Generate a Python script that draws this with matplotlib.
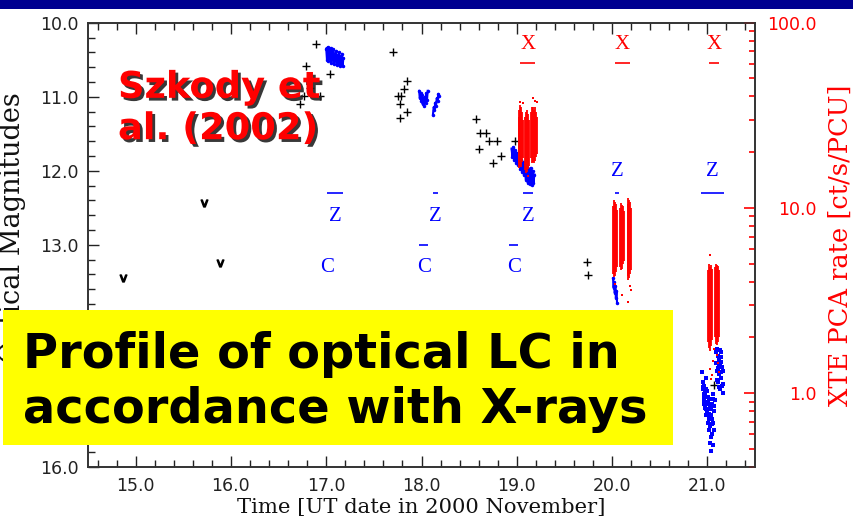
import matplotlib
matplotlib.use("Agg")
import matplotlib.pyplot as plt
from matplotlib.patches import Rectangle
from matplotlib.ticker import MultipleLocator, FixedLocator, FormatStrFormatter
import matplotlib.patheffects as pe

# ---------------- data ----------------
# optical single measurements (crosses): time [UT date], magnitude
cross_t = [16.725, 16.767, 16.830, 16.893, 16.788, 16.935, 17.040,
           17.704, 17.844, 17.815, 17.756, 17.790, 17.774, 17.850, 17.774,
           18.569, 18.614, 18.677, 18.711, 18.789, 18.607, 18.830, 18.753, 18.980,
           19.736, 19.747, 21.072]
cross_m = [11.10, 10.99, 10.88, 10.29, 10.59, 10.99, 10.69,
           10.39, 10.79, 10.89, 10.99, 10.99, 11.10, 11.20, 11.29,
           11.30, 11.49, 11.49, 11.60, 11.60, 11.70, 11.80, 11.89, 11.60,
           13.23, 13.41, 14.89]

# upper limits ("v")
ul_t = [14.870, 15.717, 15.885]
ul_m = [13.45, 12.44, 13.25]

# optical time-resolved photometry (blue)
b17_t = [17.000, 17.008, 17.015, 17.022, 17.030, 17.038, 17.045, 17.052, 17.060,
         17.068, 17.075, 17.082, 17.090, 17.098, 17.105, 17.112, 17.120, 17.128,
         17.135, 17.142, 17.150, 17.158, 17.165, 17.172, 17.180]
b17_m = [10.35, 10.50, 10.33, 10.52, 10.38, 10.48, 10.34, 10.55, 10.40,
         10.50, 10.36, 10.56, 10.42, 10.52, 10.38, 10.57, 10.44, 10.55,
         10.40, 10.58, 10.45, 10.56, 10.42, 10.59, 10.48]
b18a_t = [17.975, 17.982, 17.990, 17.998, 18.005, 18.012, 18.020, 18.028,
          18.035, 18.042, 18.050, 18.058, 18.065]
b18a_m = [10.92, 11.02, 10.95, 11.06, 10.98, 11.10, 11.02, 11.12,
          11.00, 11.08, 10.95, 11.04, 10.92]
b18b_t = [18.120, 18.128, 18.136, 18.144, 18.152, 18.160, 18.168, 18.176, 18.184]
b18b_m = [11.24, 11.14, 11.18, 11.08, 11.12, 11.02, 11.06, 10.96, 10.99]
b19_t = [18.945, 18.955, 18.965, 18.975, 18.985, 18.995, 19.005, 19.015, 19.025,
         19.035, 19.045, 19.055, 19.065, 19.075, 19.085, 19.095, 19.105, 19.115,
         19.125, 19.135, 19.145, 19.155, 19.165, 19.175, 19.185]
b19_m = [11.70, 11.82, 11.68, 11.86, 11.72, 11.90, 11.76, 11.92, 11.80,
         11.98, 11.85, 12.02, 11.88, 12.06, 11.92, 12.12, 11.95, 12.16,
         11.98, 12.18, 11.96, 12.19, 12.00, 12.17, 12.05]
b20_t = [20.010, 20.016, 20.022, 20.028, 20.034, 20.040, 20.046, 20.052]
b20_m = [13.45, 13.58, 13.50, 13.65, 13.55, 13.72, 13.62, 13.78]
b21_t = [20.945, 20.950, 20.955, 20.960, 20.965, 20.970, 20.975, 20.980, 20.985,
         20.990, 20.995, 21.000, 21.005, 21.010, 21.015, 21.020, 21.025, 21.030,
         21.035, 21.040, 21.045, 21.050, 21.055, 21.060, 21.065, 21.070, 21.075,
         21.035, 21.030, 21.010, 20.985, 21.050,
         20.958, 20.968, 20.978, 20.988, 20.998, 21.008, 21.018, 21.028, 21.038,
         21.048, 21.058, 21.068, 20.962, 20.982, 21.002, 21.022, 21.042, 21.062,
         21.090, 21.095, 21.100, 21.105, 21.110, 21.115, 21.120, 21.125, 21.130,
         21.135, 21.140, 21.145, 21.150, 21.155, 21.160, 21.165, 21.100, 21.120,
         21.140, 21.160, 21.108, 21.128, 21.148, 21.118, 21.138]
b21_m = [14.72, 14.85, 14.95, 15.05, 14.90, 15.10, 15.20, 15.00, 15.30,
         14.95, 15.15, 15.25, 15.40, 15.05, 15.35, 15.50, 15.20, 15.45,
         15.60, 15.30, 15.55, 15.15, 15.70, 15.40, 15.25, 15.50, 15.10,
         15.78, 15.68, 15.12, 14.80, 15.35,
         14.92, 15.02, 15.12, 15.22, 14.98, 15.28, 15.08, 15.32, 15.18,
         15.42, 15.02, 15.18, 15.15, 15.05, 15.12, 15.28, 15.22, 15.08,
         14.45, 14.60, 14.40, 14.70, 14.50, 14.85, 14.55, 14.75, 14.95,
         14.60, 14.80, 14.45, 14.90, 14.65, 14.70, 15.00, 14.82, 14.62,
         14.52, 14.88, 14.66, 14.42, 14.72, 14.92, 14.58]

# X-ray (RXTE PCA) count rate, binned: time, min rate, max rate [ct/s/PCU]
xr_t = [19.018, 19.028, 19.038, 19.048, 19.058, 19.068,
        19.090, 19.100, 19.110, 19.120, 19.130,
        19.152, 19.162, 19.172, 19.182, 19.192, 19.202, 19.212,
        20.008, 20.018, 20.028, 20.038, 20.048,
        20.086, 20.096, 20.106, 20.116, 20.126,
        20.162, 20.172, 20.182, 20.192, 20.202,
        21.005, 21.015, 21.025, 21.035, 21.045,
        21.085, 21.095, 21.105, 21.115, 21.125]
xr_lo = [17.5, 16.4, 17.0, 16.6, 17.8, 18.5,
         16.0, 15.4, 15.6, 16.2, 16.8,
         18.5, 17.5, 17.8, 17.5, 18.0, 18.8, 19.5,
         4.4, 4.25, 4.3, 4.5, 4.8,
         4.8, 4.6, 4.7, 5.0, 5.2,
         4.3, 4.1, 4.2, 4.4, 4.6,
         1.9, 1.75, 1.7, 1.8, 1.95,
         2.0, 1.85, 1.82, 1.9, 2.0]
xr_hi = [31.0, 34.0, 36.0, 35.0, 33.0, 30.0,
         31.0, 33.0, 33.7, 32.0, 30.0,
         33.0, 35.0, 35.2, 34.0, 35.0, 33.0, 31.0,
         10.2, 11.0, 10.8, 10.5, 9.8,
         10.0, 10.6, 10.4, 10.2, 9.6,
         10.5, 11.3, 11.0, 10.8, 10.0,
         4.6, 5.0, 4.8, 4.9, 4.7,
         4.8, 5.0, 4.9, 4.85, 4.6]
# isolated X-ray points
xo_t = [19.175, 19.195, 19.030, 19.060, 19.210, 19.120,
        20.100, 20.170, 20.190, 20.030, 20.200,
        21.025, 21.030, 21.050, 21.110, 21.120, 21.105, 21.060, 21.040, 21.070]
xo_r = [39.4, 38.0, 37.5, 36.8, 37.5, 14.8,
        3.4, 3.1, 3.8, 3.9, 3.6,
        5.56, 1.35, 1.25, 1.45, 1.30, 1.60, 1.50, 1.20, 1.73]

# observation coverage bars: start, end
z_start = [17.005, 18.124, 19.062, 20.027, 20.933]
z_end = [17.179, 18.175, 19.173, 20.076, 21.171]
c_start = [17.003, 17.977, 18.921]
c_end = [17.010, 18.071, 19.016]
x_start = [19.036, 20.027, 21.014]
x_end = [19.193, 20.191, 21.119]

xticks = [15.0, 16.0, 17.0, 18.0, 19.0, 20.0, 21.0]
yticks = [10.0, 11.0, 12.0, 13.0, 14.0, 15.0, 16.0]
rticks = [1.0, 10.0, 100.0]

BLUE = "#0000ff"
RED = "#ff0000"

# ---------------- figure ----------------
W, H = 854, 520
fig = plt.figure(figsize=(W / 100, H / 100), dpi=100)
fig.patch.set_facecolor("white")

L, R, T, B = 88, 755, 22.7, 467
ax = fig.add_axes([L / W, 1 - B / H, (R - L) / W, (B - T) / H])
ax2 = ax.twinx()

ax.set_xlim(14.5, 21.5)
ax.set_ylim(16.0, 10.0)
ax2.set_yscale("log")
ax2.set_ylim(0.4, 100.0)

for a in (ax, ax2):
    for sp in a.spines.values():
        sp.set_color("#333333")
        sp.set_linewidth(1.2)

ax.xaxis.set_major_locator(FixedLocator(xticks))
ax.xaxis.set_minor_locator(MultipleLocator(0.2))
ax.yaxis.set_major_locator(FixedLocator(yticks))
ax.yaxis.set_minor_locator(MultipleLocator(0.2))
ax.xaxis.set_major_formatter(FormatStrFormatter("%.1f"))
ax.yaxis.set_major_formatter(FormatStrFormatter("%.1f"))
ax.tick_params(axis="both", which="both", direction="in", colors="#222222",
               top=True, right=False, labelsize=12.5)
ax.tick_params(axis="both", which="major", length=8, width=1.0, pad=7)
ax.tick_params(axis="both", which="minor", length=5, width=1.0)

ax2.yaxis.set_major_locator(FixedLocator(rticks))
ax2.yaxis.set_major_formatter(FormatStrFormatter("%.1f"))
ax2.tick_params(axis="y", which="both", direction="in", colors=RED, labelcolor=RED,
                labelsize=12.5)
ax2.tick_params(axis="y", which="major", length=8, width=1.2, pad=44.5)
ax2.tick_params(axis="y", which="minor", length=4, width=1.2)
for lab in ax2.get_yticklabels():
    lab.set_horizontalalignment("right")

for lab in ax.get_xticklabels() + ax.get_yticklabels() + ax2.get_yticklabels():
    lab.set_fontfamily("DejaVu Sans")

# optical data
ax.plot(cross_t, cross_m, linestyle="none", marker="+", color="black",
        markersize=6, markeredgewidth=1.0, zorder=3)
ax.plot(ul_t, ul_m, linestyle="none", marker=r"$\mathsf{v}$", color="black",
        markersize=5, zorder=3)
for t, m in [(b17_t, b17_m), (b18a_t, b18a_m), (b18b_t, b18b_m),
             (b19_t, b19_m), (b20_t, b20_m)]:
    ax.plot(t, m, color=BLUE, linewidth=1.5, zorder=3)
    ax.plot(t, m, linestyle="none", marker=".", color=BLUE, markersize=3, zorder=3)
ax.plot(b21_t, b21_m, linestyle="none", marker="s", color=BLUE,
        markersize=2.4, markeredgewidth=0, zorder=3)

# X-ray data
ax2.vlines(xr_t, xr_lo, xr_hi, colors=RED, linewidth=1.3, zorder=2)
ax2.plot(xo_t, xo_r, linestyle="none", marker="s", color=RED,
         markersize=2.0, markeredgewidth=0, zorder=2)

# coverage bars and labels
lblfont = dict(family="Liberation Serif", size=15)
ax.hlines([12.30] * len(z_start), z_start, z_end, colors=BLUE, linewidth=1.2)
ax.hlines([13.00] * len(c_start), c_start, c_end, colors=BLUE, linewidth=1.2)
ax.hlines([10.55] * len(x_start), x_start, x_end, colors=RED, linewidth=1.2)
for i, (s, e) in enumerate(zip(z_start, z_end)):
    ymag = 12.62 if i < 3 else 12.01
    ax.text((s + e) / 2, ymag, "Z", color=BLUE, ha="center", va="center", **lblfont)
for s, e in zip(c_start, c_end):
    ax.text((s + e) / 2, 13.30, "C", color=BLUE, ha="center", va="center", **lblfont)
for s, e in zip(x_start, x_end):
    ax.text((s + e) / 2, 10.30, "X", color=RED, ha="center", va="center", **lblfont)

# axis labels
fig.text(421 / W, 1 - 507 / H, "Time [UT date in 2000 November]", ha="center",
         va="center", family="DejaVu Serif", size=15.2, color="#111111")
fig.text(13 / W, 1 - 228 / H, "Optical Magnitudes", ha="center", va="center",
         rotation=90, family="DejaVu Serif", size=19.5, color="#111111")
fig.text(840 / W, 1 - 245 / H, "XTE PCA rate [ct/s/PCU]", ha="center", va="center",
         rotation=90, family="DejaVu Serif", size=18.5, color=RED)

# slide decorations
fig.add_artist(Rectangle((0, 1 - 8.5 / H), 1, 8.5 / H, transform=fig.transFigure,
                         facecolor="#000090", edgecolor="none", zorder=5))
fig.add_artist(Rectangle((3 / W, 1 - 445 / H), 670 / W, 135 / H,
                         transform=fig.transFigure, facecolor="#ffff00",
                         edgecolor="none", zorder=5))
fig.text(23 / W, 1 - 382 / H, "Profile of optical LC in\naccordance with X-rays",
         ha="left", va="center", family="DejaVu Sans", weight="bold", size=34.5,
         color="black", linespacing=1.22, zorder=6)
fig.text(118 / W, 1 - 108 / H, "Szkody et\nal. (2002)", ha="left", va="center",
         family="DejaVu Sans", weight="bold", size=26.5, color=RED,
         linespacing=1.15, zorder=6,
         path_effects=[pe.SimplePatchShadow(offset=(2, -2), shadow_rgbFace="#222222",
                                            alpha=0.9), pe.Normal()])

fig.savefig("out.png", dpi=100)
